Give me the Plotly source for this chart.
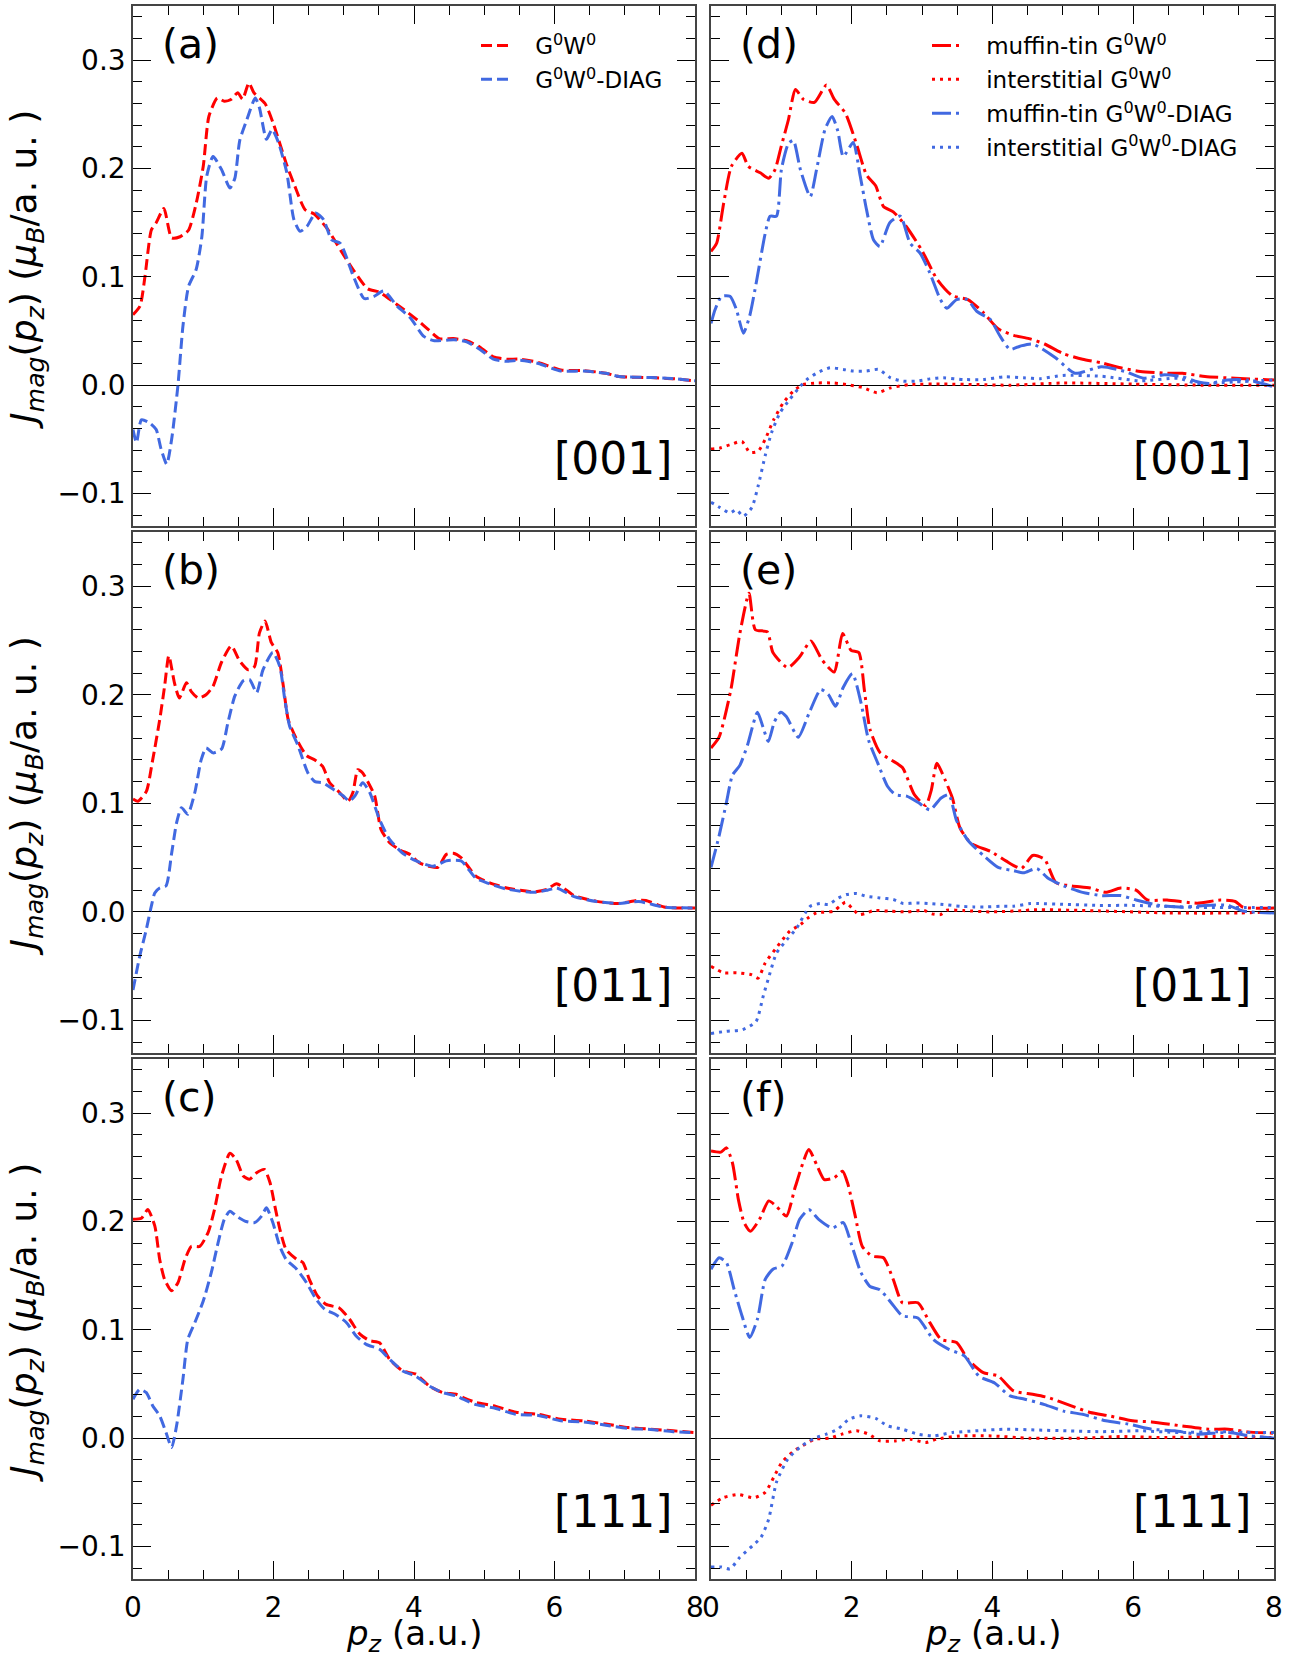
import plotly.graph_objects as go

# ---------------- data ----------------
# Panel (a) [001]
a_g0w0_x = [0, 0.1, 0.17, 0.26, 0.33, 0.44, 0.55, 0.67, 0.79, 0.9, 1.0, 1.08, 1.2, 1.3, 1.4, 1.49, 1.56, 1.65, 1.72, 1.88, 2.0, 2.19, 2.29, 2.45, 2.58, 2.77, 2.96, 3.15, 3.34, 3.5, 3.66, 3.85, 4.05, 4.21, 4.36, 4.56, 4.75, 4.94, 5.13, 5.32, 5.51, 5.77, 6.09, 6.41, 6.73, 6.92, 7.37, 7.69, 8.0]
a_g0w0_y = [0.065, 0.073, 0.100, 0.143, 0.150, 0.163, 0.136, 0.137, 0.143, 0.168, 0.202, 0.248, 0.265, 0.262, 0.264, 0.270, 0.264, 0.279, 0.270, 0.260, 0.241, 0.203, 0.186, 0.162, 0.158, 0.144, 0.124, 0.105, 0.089, 0.086, 0.079, 0.070, 0.060, 0.051, 0.043, 0.043, 0.041, 0.035, 0.026, 0.024, 0.024, 0.021, 0.014, 0.0135, 0.011, 0.008, 0.007, 0.006, 0.004]
a_diag_x = [0, 0.05, 0.12, 0.24, 0.33, 0.40, 0.48, 0.55, 0.64, 0.71, 0.79, 0.90, 0.98, 1.05, 1.14, 1.26, 1.38, 1.45, 1.52, 1.62, 1.74, 1.80, 1.90, 1.98, 2.07, 2.19, 2.29, 2.38, 2.48, 2.60, 2.71, 2.83, 2.95, 3.14, 3.29, 3.43, 3.57, 3.76, 3.95, 4.14, 4.29, 4.57, 4.75, 4.94, 5.13, 5.32, 5.51, 5.77, 6.09, 6.41, 6.73, 6.92, 7.37, 7.69, 8.0]
a_diag_y = [-0.041, -0.053, -0.032, -0.035, -0.041, -0.059, -0.073, -0.050, 0.0, 0.054, 0.091, 0.107, 0.137, 0.193, 0.211, 0.199, 0.182, 0.191, 0.226, 0.245, 0.265, 0.256, 0.227, 0.236, 0.224, 0.196, 0.153, 0.142, 0.147, 0.159, 0.153, 0.134, 0.131, 0.100, 0.080, 0.082, 0.087, 0.073, 0.062, 0.045, 0.041, 0.042, 0.040, 0.033, 0.024, 0.022, 0.023, 0.020, 0.013, 0.013, 0.011, 0.008, 0.007, 0.006, 0.004]

# Panel (b) [011]
b_g0w0_x = [0, 0.07, 0.19, 0.28, 0.38, 0.45, 0.51, 0.59, 0.66, 0.76, 0.83, 0.93, 1.04, 1.14, 1.26, 1.40, 1.52, 1.64, 1.73, 1.80, 1.88, 1.97, 2.06, 2.14, 2.21, 2.33, 2.47, 2.59, 2.70, 2.80, 2.94, 3.06, 3.13, 3.20, 3.27, 3.35, 3.44, 3.53, 3.65, 3.80, 3.94, 4.08, 4.22, 4.34, 4.46, 4.56, 4.67, 4.88, 5.07, 5.32, 5.71, 5.90, 6.03, 6.28, 6.60, 6.92, 7.17, 7.30, 7.56, 8.0]
b_g0w0_y = [0.104, 0.102, 0.111, 0.140, 0.177, 0.208, 0.236, 0.211, 0.197, 0.211, 0.203, 0.197, 0.200, 0.208, 0.230, 0.245, 0.231, 0.223, 0.226, 0.257, 0.268, 0.248, 0.239, 0.208, 0.177, 0.159, 0.144, 0.140, 0.134, 0.119, 0.110, 0.102, 0.110, 0.131, 0.128, 0.119, 0.107, 0.076, 0.064, 0.057, 0.053, 0.045, 0.042, 0.041, 0.053, 0.054, 0.050, 0.033, 0.027, 0.022, 0.0185, 0.021, 0.026, 0.015, 0.0097, 0.0078, 0.0105, 0.0105, 0.0045, 0.0035]
b_diag_x = [0, 0.095, 0.19, 0.26, 0.31, 0.38, 0.47, 0.55, 0.62, 0.69, 0.78, 0.88, 0.97, 1.04, 1.14, 1.26, 1.35, 1.45, 1.57, 1.66, 1.76, 1.85, 1.99, 2.09, 2.16, 2.23, 2.35, 2.49, 2.59, 2.70, 2.85, 2.99, 3.08, 3.16, 3.27, 3.37, 3.51, 3.65, 3.84, 4.03, 4.27, 4.46, 4.67, 4.88, 5.07, 5.32, 5.71, 5.90, 6.03, 6.28, 6.60, 6.92, 7.20, 7.56, 8.0]
b_diag_y = [-0.072, -0.041, -0.016, 0.005, 0.0175, 0.022, 0.024, 0.054, 0.082, 0.096, 0.090, 0.110, 0.140, 0.151, 0.1465, 0.150, 0.174, 0.199, 0.213, 0.214, 0.202, 0.223, 0.239, 0.226, 0.196, 0.171, 0.153, 0.128, 0.120, 0.119, 0.113, 0.107, 0.102, 0.107, 0.119, 0.110, 0.085, 0.067, 0.054, 0.047, 0.042, 0.047, 0.047, 0.031, 0.026, 0.021, 0.018, 0.020, 0.022, 0.014, 0.0095, 0.0078, 0.0095, 0.0045, 0.0035]

# Panel (c) [111]
c_g0w0_x = [0, 0.12, 0.21, 0.31, 0.38, 0.45, 0.55, 0.64, 0.74, 0.83, 0.95, 1.07, 1.16, 1.26, 1.38, 1.47, 1.57, 1.66, 1.76, 1.87, 1.95, 2.02, 2.09, 2.18, 2.33, 2.42, 2.51, 2.63, 2.75, 2.94, 3.08, 3.23, 3.37, 3.51, 3.65, 3.84, 4.03, 4.22, 4.41, 4.60, 4.70, 4.88, 5.13, 5.45, 5.77, 6.09, 6.41, 6.73, 7.05, 7.37, 7.69, 8.0]
c_g0w0_y = [0.202, 0.203, 0.211, 0.196, 0.165, 0.1465, 0.136, 0.1435, 0.165, 0.177, 0.177, 0.190, 0.211, 0.242, 0.263, 0.257, 0.242, 0.239, 0.245, 0.248, 0.236, 0.214, 0.193, 0.174, 0.165, 0.162, 0.1465, 0.131, 0.1235, 0.120, 0.110, 0.096, 0.090, 0.088, 0.073, 0.062, 0.059, 0.048, 0.042, 0.0405, 0.0375, 0.033, 0.030, 0.024, 0.022, 0.0175, 0.016, 0.013, 0.0098, 0.0083, 0.0068, 0.0052]
c_diag_x = [0, 0.095, 0.19, 0.28, 0.38, 0.47, 0.55, 0.62, 0.71, 0.78, 0.88, 1.0, 1.115, 1.21, 1.30, 1.38, 1.47, 1.61, 1.73, 1.83, 1.90, 1.99, 2.09, 2.18, 2.33, 2.47, 2.61, 2.73, 2.89, 3.04, 3.18, 3.32, 3.51, 3.65, 3.84, 4.03, 4.22, 4.41, 4.60, 4.70, 4.88, 5.13, 5.45, 5.77, 6.09, 6.41, 6.73, 7.05, 7.37, 7.69, 8.0]
c_diag_y = [0.036, 0.045, 0.042, 0.030, 0.0206, 0.0052, -0.0086, 0.0114, 0.054, 0.091, 0.1066, 0.1266, 0.153, 0.180, 0.202, 0.2095, 0.205, 0.200, 0.199, 0.205, 0.2126, 0.199, 0.177, 0.165, 0.156, 0.1435, 0.128, 0.119, 0.114, 0.1066, 0.094, 0.0866, 0.082, 0.073, 0.062, 0.057, 0.048, 0.042, 0.039, 0.036, 0.031, 0.028, 0.022, 0.021, 0.016, 0.015, 0.012, 0.009, 0.008, 0.006, 0.005]

# Panel (d) [001]
d_mt_g0w0_x = [0, 0.08, 0.18, 0.29, 0.44, 0.53, 0.70, 0.82, 0.91, 1.0, 1.10, 1.20, 1.31, 1.47, 1.64, 1.75, 1.91, 2.07, 2.21, 2.34, 2.45, 2.59, 2.78, 3.0, 3.21, 3.43, 3.65, 3.87, 4.08, 4.30, 4.52, 4.74, 5.01, 5.28, 5.55, 5.82, 6.10, 6.48, 6.70, 7.02, 7.45, 8.0]
d_mt_g0w0_y = [0.1235, 0.131, 0.168, 0.202, 0.214, 0.202, 0.196, 0.191, 0.199, 0.221, 0.245, 0.273, 0.264, 0.261, 0.277, 0.264, 0.251, 0.222, 0.194, 0.184, 0.165, 0.160, 0.146, 0.124, 0.098, 0.0825, 0.079, 0.067, 0.052, 0.046, 0.043, 0.038, 0.029, 0.024, 0.0206, 0.016, 0.0127, 0.011, 0.011, 0.008, 0.0064, 0.0048]
d_is_g0w0_x = [0, 0.13, 0.27, 0.44, 0.55, 0.67, 0.77, 0.89, 1.03, 1.17, 1.31, 1.50, 1.74, 1.98, 2.17, 2.36, 2.55, 2.83, 3.30, 3.78, 4.25, 5.0, 6.0, 7.0, 8.0]
d_is_g0w0_y = [-0.059, -0.058, -0.055, -0.052, -0.062, -0.061, -0.050, -0.032, -0.016, -0.0055, 0.0006, 0.002, 0.002, 0.0, -0.0025, -0.007, -0.0025, 0.0006, 0.001, 0.0006, 0.0, 0.002, 0.001, 0.0, 0.0]
d_mt_diag_x = [0, 0.06, 0.15, 0.27, 0.36, 0.46, 0.55, 0.65, 0.77, 0.84, 0.93, 1.0, 1.10, 1.17, 1.27, 1.41, 1.50, 1.62, 1.72, 1.80, 1.88, 2.02, 2.12, 2.21, 2.31, 2.40, 2.54, 2.69, 2.83, 2.97, 3.11, 3.26, 3.35, 3.49, 3.64, 3.78, 3.97, 4.11, 4.25, 4.39, 4.57, 4.90, 5.17, 5.55, 5.88, 6.15, 6.42, 6.69, 6.91, 7.08, 7.34, 7.62, 8.0]
d_mt_diag_y = [0.057, 0.070, 0.082, 0.082, 0.070, 0.048, 0.064, 0.097, 0.140, 0.156, 0.156, 0.199, 0.223, 0.226, 0.199, 0.174, 0.199, 0.236, 0.248, 0.235, 0.211, 0.224, 0.193, 0.162, 0.134, 0.128, 0.150, 0.156, 0.131, 0.122, 0.1035, 0.079, 0.071, 0.079, 0.079, 0.068, 0.0605, 0.045, 0.033, 0.036, 0.038, 0.025, 0.011, 0.017, 0.0127, 0.0064, 0.0095, 0.008, 0.0032, 0.0016, 0.0048, 0.0048, -0.0016]
d_is_diag_x = [0, 0.13, 0.27, 0.36, 0.46, 0.58, 0.67, 0.77, 0.86, 0.98, 1.12, 1.27, 1.36, 1.50, 1.69, 1.88, 2.02, 2.21, 2.38, 2.55, 2.73, 2.92, 3.11, 3.30, 3.59, 3.87, 4.16, 4.44, 4.68, 5.0, 5.55, 6.10, 6.64, 6.90, 7.45, 8.0]
d_is_diag_y = [-0.108, -0.113, -0.118, -0.115, -0.121, -0.113, -0.093, -0.065, -0.044, -0.0255, -0.013, -0.001, 0.005, 0.011, 0.016, 0.0145, 0.013, 0.013, 0.0145, 0.0068, 0.0037, 0.0037, 0.0058, 0.0068, 0.0052, 0.0052, 0.0077, 0.0068, 0.006, 0.009, 0.0082, 0.004, 0.0064, 0.0016, 0.003, 0.0048]

# Panel (e) [011]
e_mt_g0w0_x = [0, 0.115, 0.28, 0.41, 0.54, 0.63, 0.80, 0.88, 1.09, 1.26, 1.42, 1.58, 1.75, 1.87, 1.99, 2.10, 2.18, 2.26, 2.40, 2.56, 2.72, 2.89, 3.05, 3.13, 3.21, 3.32, 3.43, 3.54, 3.70, 3.98, 4.19, 4.41, 4.57, 4.74, 4.90, 5.12, 5.39, 5.61, 5.82, 6.04, 6.20, 6.48, 6.91, 7.24, 7.45, 7.56, 8.0]
e_mt_g0w0_y = [0.151, 0.161, 0.204, 0.2565, 0.2935, 0.260, 0.258, 0.239, 0.225, 0.235, 0.2495, 0.232, 0.221, 0.2565, 0.241, 0.239, 0.204, 0.168, 0.147, 0.140, 0.133, 0.108, 0.098, 0.112, 0.137, 0.1225, 0.105, 0.077, 0.063, 0.0555, 0.047, 0.040, 0.052, 0.0485, 0.027, 0.024, 0.022, 0.018, 0.022, 0.020, 0.011, 0.011, 0.008, 0.011, 0.0096, 0.0043, 0.0035]
e_is_g0w0_x = [0, 0.175, 0.365, 0.58, 0.67, 0.77, 0.91, 1.0, 1.12, 1.27, 1.38, 1.50, 1.74, 1.83, 1.91, 2.0, 2.10, 2.19, 2.31, 2.55, 2.78, 3.02, 3.14, 3.26, 3.35, 3.59, 3.97, 4.44, 4.58, 5.5, 6.5, 7.5, 8.0]
e_is_g0w0_y = [-0.050, -0.056, -0.056, -0.058, -0.061, -0.047, -0.0347, -0.027, -0.0178, -0.0117, -0.0055, -0.0009, 0.0006, 0.0052, 0.0089, 0.0037, -0.0025, -0.0015, 0.0012, 0.0006, 0.0, 0.0015, -0.0018, -0.0025, 0.0015, 0.0012, 0.0, 0.0012, 0.002, 0.001, -0.001, -0.001, 0.0]
e_mt_diag_x = [0, 0.115, 0.22, 0.305, 0.41, 0.52, 0.66, 0.74, 0.815, 0.90, 0.99, 1.07, 1.24, 1.39, 1.56, 1.67, 1.77, 1.88, 2.01, 2.13, 2.24, 2.37, 2.51, 2.62, 2.78, 2.94, 3.11, 3.27, 3.38, 3.49, 3.65, 3.87, 4.08, 4.30, 4.44, 4.63, 4.79, 5.01, 5.28, 5.55, 5.82, 6.04, 6.37, 6.69, 7.02, 7.34, 7.56, 8.0]
e_mt_diag_y = [0.041, 0.070, 0.101, 0.126, 0.135, 0.154, 0.184, 0.170, 0.157, 0.175, 0.184, 0.180, 0.161, 0.1825, 0.205, 0.200, 0.1895, 0.207, 0.2195, 0.193, 0.158, 0.137, 0.1155, 0.108, 0.1066, 0.101, 0.094, 0.105, 0.108, 0.084, 0.066, 0.052, 0.041, 0.038, 0.036, 0.040, 0.031, 0.024, 0.018, 0.015, 0.015, 0.011, 0.006, 0.0043, 0.006, 0.006, 0.0008, -0.001]
e_is_diag_x = [0, 0.22, 0.45, 0.64, 0.74, 0.84, 0.93, 1.08, 1.22, 1.34, 1.41, 1.55, 1.67, 1.81, 1.93, 2.07, 2.21, 2.40, 2.59, 2.73, 2.92, 3.11, 3.30, 3.54, 3.73, 3.92, 4.11, 4.30, 4.54, 4.65, 5.0, 5.5, 6.0, 6.5, 7.0, 7.5, 8.0]
e_is_diag_y = [-0.112, -0.110, -0.1085, -0.101, -0.078, -0.056, -0.038, -0.0255, -0.0147, -0.0009, 0.0052, 0.0077, 0.0068, 0.0129, 0.016, 0.0169, 0.0144, 0.0129, 0.0114, 0.0077, 0.0083, 0.0077, 0.0068, 0.0052, 0.0046, 0.0046, 0.0052, 0.0052, 0.0077, 0.0077, 0.007, 0.006, 0.006, 0.005, 0.004, 0.004, 0.004]

# Panel (f) [111]
f_mt_g0w0_x = [0, 0.14, 0.22, 0.305, 0.39, 0.47, 0.56, 0.69, 0.82, 0.93, 1.07, 1.20, 1.39, 1.50, 1.61, 1.75, 1.87, 1.94, 2.05, 2.15, 2.29, 2.45, 2.59, 2.72, 2.94, 3.11, 3.27, 3.49, 3.65, 3.87, 4.08, 4.30, 4.57, 4.79, 5.12, 5.39, 5.66, 5.99, 6.26, 6.69, 7.07, 7.35, 7.62, 8.0]
f_mt_g0w0_y = [0.265, 0.264, 0.268, 0.254, 0.220, 0.199, 0.191, 0.202, 0.219, 0.214, 0.205, 0.2325, 0.2664, 0.2525, 0.2387, 0.2403, 0.2464, 0.2357, 0.205, 0.177, 0.168, 0.1665, 0.1465, 0.125, 0.125, 0.1066, 0.0912, 0.0882, 0.0728, 0.0605, 0.0574, 0.0436, 0.0405, 0.0375, 0.0298, 0.0237, 0.0206, 0.016, 0.015, 0.0113, 0.0083, 0.0083, 0.0058, 0.0046]
f_is_g0w0_x = [0, 0.17, 0.39, 0.61, 0.77, 0.90, 1.01, 1.18, 1.34, 1.47, 1.69, 1.86, 2.07, 2.24, 2.40, 2.62, 2.83, 3.05, 3.21, 3.54, 3.98, 4.52, 5.28, 5.82, 6.37, 7.18, 8.0]
f_is_g0w0_y = [-0.062, -0.055, -0.052, -0.055, -0.050, -0.035, -0.022, -0.0117, -0.0055, -0.0009, 0.0, 0.0037, 0.0068, 0.0037, -0.0025, -0.0025, -0.0009, -0.004, -0.0009, 0.0021, 0.0021, 0.0, 0.0, 0.0015, 0.0006, 0.0015, 0.0006]
f_mt_diag_x = [0, 0.115, 0.22, 0.33, 0.44, 0.55, 0.66, 0.77, 0.88, 1.01, 1.15, 1.26, 1.39, 1.53, 1.72, 1.88, 1.99, 2.13, 2.26, 2.40, 2.56, 2.72, 2.94, 3.16, 3.38, 3.60, 3.81, 4.03, 4.25, 4.46, 4.74, 5.01, 5.28, 5.61, 5.93, 6.26, 6.59, 6.91, 7.35, 7.67, 8.0]
f_mt_diag_y = [0.156, 0.1665, 0.162, 0.137, 0.113, 0.093, 0.110, 0.1465, 0.156, 0.159, 0.180, 0.202, 0.211, 0.202, 0.194, 0.199, 0.180, 0.153, 0.140, 0.137, 0.125, 0.113, 0.111, 0.091, 0.082, 0.076, 0.057, 0.051, 0.039, 0.036, 0.031, 0.025, 0.022, 0.016, 0.013, 0.0083, 0.0068, 0.0037, 0.0052, 0.0021, 0.0]
f_is_diag_x = [0, 0.15, 0.27, 0.41, 0.59, 0.71, 0.82, 0.93, 1.09, 1.26, 1.47, 1.64, 1.80, 1.96, 2.13, 2.34, 2.51, 2.72, 2.94, 3.16, 3.43, 3.76, 4.19, 4.63, 5.06, 5.55, 6.10, 6.64, 7.18, 7.73, 8.0]
f_is_diag_y = [-0.119, -0.119, -0.1207, -0.110, -0.0993, -0.0916, -0.0747, -0.0408, -0.0194, -0.0086, 0.0, 0.0037, 0.0083, 0.0175, 0.0206, 0.0182, 0.0113, 0.0083, 0.0037, 0.0021, 0.0052, 0.0068, 0.0083, 0.0075, 0.0068, 0.006, 0.0068, 0.0052, 0.006, 0.0052, 0.0052]

panel_labels = ["(a)", "(d)", "(b)", "(e)", "(c)", "(f)"]
direction_labels = ["[001]", "[001]", "[011]", "[011]", "[111]", "[111]"]
x_tick_vals = [0, 2, 4, 6, 8]
y_tick_vals = [-0.1, 0.0, 0.1, 0.2, 0.3]
y_tick_text = ["\u22120.1", "0.0", "0.1", "0.2", "0.3"]

GAP = "\u00a0\u00a0\u2009"  # space between legend line sample and its text
name_g0w0 = GAP + "G<sup>0</sup>W<sup>0</sup>"
name_diag = GAP + "G<sup>0</sup>W<sup>0</sup>-DIAG"
name_mt_g0w0 = GAP + "muffin-tin G<sup>0</sup>W<sup>0</sup>"
name_is_g0w0 = GAP + "interstitial G<sup>0</sup>W<sup>0</sup>"
name_mt_diag = GAP + "muffin-tin G<sup>0</sup>W<sup>0</sup>-DIAG"
name_is_diag = GAP + "interstitial G<sup>0</sup>W<sup>0</sup>-DIAG"

# ---------------- styling ----------------
RED = "#ff0000"
BLUE = "#4169e1"
LW = 3
DASH = "11px,5px"
DASHDOT = "19px,5px,3px,5px"
DOT = "3px,5px"
FONT = "DejaVu Sans"
W, H = 1297, 1660

col_px = [(133, 695), (711, 1274)]
row_px = [(6, 526), (532, 1053), (1059, 1579)]

# panel index order: a, d, b, e, c, f  -> axis 1..6
panel_pos = [(0, 0), (0, 1), (1, 0), (1, 1), (2, 0), (2, 1)]

fig = go.Figure()


def ax_names(i):
    return ("x" if i == 1 else f"x{i}"), ("y" if i == 1 else f"y{i}")


counter = [0]


def add_line(i, xs, ys, color, dash, name, legend=None):
    xa, ya = ax_names(i)
    counter[0] += 1
    fig.add_trace(go.Scatter(
        x=xs, y=ys, mode="lines", xaxis=xa, yaxis=ya,
        line=dict(color=color, width=LW, dash=dash, shape="spline", smoothing=0.6),
        name=name, showlegend=legend is not None,
        legend=legend if legend else "legend",
        legendgroup=f"g{counter[0]}",
    ))


# left column: total G0W0 vs DIAG (dashed)
add_line(1, a_g0w0_x, a_g0w0_y, RED, DASH, name_g0w0, "legend")
add_line(1, a_diag_x, a_diag_y, BLUE, DASH, name_diag, "legend")
add_line(3, b_g0w0_x, b_g0w0_y, RED, DASH, name_g0w0)
add_line(3, b_diag_x, b_diag_y, BLUE, DASH, name_diag)
add_line(5, c_g0w0_x, c_g0w0_y, RED, DASH, name_g0w0)
add_line(5, c_diag_x, c_diag_y, BLUE, DASH, name_diag)

# right column: muffin-tin / interstitial
right_sets = [
    (2, d_mt_g0w0_x, d_mt_g0w0_y, d_is_g0w0_x, d_is_g0w0_y, d_mt_diag_x, d_mt_diag_y, d_is_diag_x, d_is_diag_y, True),
    (4, e_mt_g0w0_x, e_mt_g0w0_y, e_is_g0w0_x, e_is_g0w0_y, e_mt_diag_x, e_mt_diag_y, e_is_diag_x, e_is_diag_y, False),
    (6, f_mt_g0w0_x, f_mt_g0w0_y, f_is_g0w0_x, f_is_g0w0_y, f_mt_diag_x, f_mt_diag_y, f_is_diag_x, f_is_diag_y, False),
]
for (i, mx, my, ix, iy, mdx, mdy, idx, idy, leg) in right_sets:
    lg = "legend2" if leg else None
    add_line(i, mx, my, RED, DASHDOT, name_mt_g0w0, lg)
    add_line(i, ix, iy, RED, DOT, name_is_g0w0, lg)
    add_line(i, mdx, mdy, BLUE, DASHDOT, name_mt_diag, lg)
    add_line(i, idx, idy, BLUE, DOT, name_is_diag, lg)

legend_font = dict(family=FONT, size=23, color="black")
layout = dict(
    width=W, height=H, autosize=False,
    template="none",
    margin=dict(l=0, r=0, t=0, b=0, pad=0),
    paper_bgcolor="white", plot_bgcolor="white",
    font=dict(family=FONT, color="black"),
    showlegend=True,
    legend=dict(x=476 / W, y=1 - 24 / H, xanchor="left", yanchor="top",
                bgcolor="rgba(0,0,0,0)", borderwidth=0, itemwidth=30,
                font=legend_font, tracegroupgap=1),
    legend2=dict(x=927 / W, y=1 - 24 / H, xanchor="left", yanchor="top",
                 bgcolor="rgba(0,0,0,0)", borderwidth=0, itemwidth=30,
                 font=legend_font, tracegroupgap=1),
)

common = dict(showline=True, linecolor="#444", linewidth=1.6, mirror="allticks",
              ticks="inside", ticklen=18, tickwidth=1.3, tickcolor="black",
              showgrid=False, automargin=False,
              tickfont=dict(family=FONT, size=28, color="black"))

annotations = []
for i, (r, c) in enumerate(panel_pos, start=1):
    x0, x1 = col_px[c]
    y0, y1 = row_px[r]
    xa, ya = ax_names(i)
    xkey = "xaxis" if i == 1 else f"xaxis{i}"
    ykey = "yaxis" if i == 1 else f"yaxis{i}"
    layout[xkey] = dict(
        common, domain=[x0 / W, x1 / W], anchor=ya, range=[0, 8],
        tickvals=x_tick_vals, ticktext=[str(v) for v in x_tick_vals],
        showticklabels=(r == 2), zeroline=False, ticklabelstandoff=3,
        minor=dict(ticks="inside", ticklen=9, tickwidth=1.1, tickcolor="black",
                   dtick=0.5, tick0=0, showgrid=False),
    )
    layout[ykey] = dict(
        common, domain=[1 - y1 / H, 1 - y0 / H], anchor=xa, range=[-0.13, 0.35],
        tickvals=y_tick_vals, ticktext=y_tick_text,
        showticklabels=(c == 0),
        zeroline=True, zerolinecolor="black", zerolinewidth=1.3,
        minor=dict(ticks="inside", ticklen=9, tickwidth=1.1, tickcolor="black",
                   dtick=0.02, tick0=0, showgrid=False),
    )
    annotations.append(dict(
        text=panel_labels[i - 1], xref=f"{xa} domain", yref=f"{ya} domain",
        x=0.048, y=0.927, xanchor="left", yanchor="middle", showarrow=False,
        font=dict(family=FONT, size=41, color="black")))
    annotations.append(dict(
        text=direction_labels[i - 1], xref=f"{xa} domain", yref=f"{ya} domain",
        x=0.962, y=0.13, xanchor="right", yanchor="middle", showarrow=False,
        font=dict(family=FONT, size=44, color="black")))
    if c == 0:
        annotations.append(dict(
            text="<i>J</i><sub><i>mag</i></sub>(<i>p</i><sub><i>z</i></sub>) (<i>\u03bc</i><sub><i>B</i></sub>/a. u. )",
            xref="paper", yref="paper", x=26 / W, y=1 - ((y0 + y1) / 2 + 4) / H,
            xanchor="center", yanchor="middle", textangle=-90, showarrow=False,
            font=dict(family=FONT, size=36, color="black")))
    if r == 2:
        annotations.append(dict(
            text="<i>p</i><sub><i>z</i></sub> (a.u.)",
            xref="paper", yref="paper", x=((x0 + x1) / 2) / W, y=1 - 1635 / H,
            xanchor="center", yanchor="middle", showarrow=False,
            font=dict(family=FONT, size=34, color="black")))

layout["annotations"] = annotations
fig.update_layout(**layout)
fig.write_html(
    "out.html",
    config={"displayModeBar": False},
    post_script="document.body.style.margin='0px';document.body.style.padding='0px';"
                "document.documentElement.style.overflow='hidden';",
)
